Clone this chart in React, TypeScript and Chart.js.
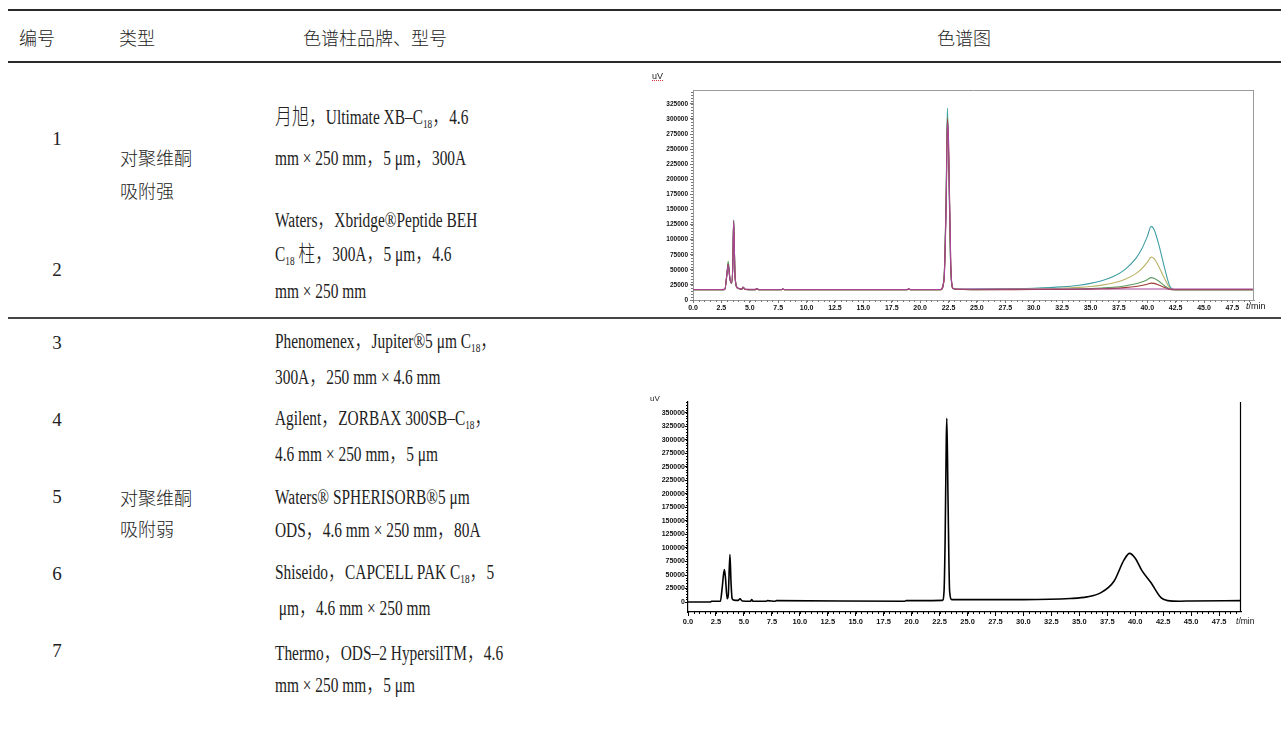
import React, { useEffect, useRef } from "react";
import { Chart, registerables } from "chart.js";

Chart.register(...registerables);

// ---------------- Top chromatogram (overlay of several runs) ----------------
const TOP_TIMES = [0, 2.5, 2.8, 3.0, 3.1, 3.25, 3.4, 3.5, 3.58, 3.7, 3.9, 4.3, 4.4, 4.6, 5.5, 5.6, 5.8, 7.8, 7.9, 8.1, 18.8, 19.0, 19.2, 21.8, 22.1, 22.3, 22.4, 22.5, 22.7, 22.9, 23.2, 25, 27.5, 30, 32.5, 34, 35, 36, 37, 38, 39, 39.5, 40, 40.35, 40.6, 41, 41.5, 42, 42.5, 45, 49.3];
const TOP_TEAL = [17000, 17000, 17500, 45000, 60000, 35000, 28000, 55000, 133000, 40000, 20000, 18000, 21000, 17500, 17200, 18500, 17000, 17000, 18000, 17000, 17000, 18000, 17000, 17000, 35000, 185000, 318000, 245000, 50000, 19000, 17800, 18000, 18700, 19500, 21700, 24500, 27500, 32000, 38800, 50000, 69000, 84000, 105000, 122000, 117000, 93000, 55000, 22500, 17000, 17000, 17000];
const TOP_OLIVE = [17000, 17000, 17500, 45000, 60000, 35000, 28000, 55000, 131000, 40000, 20000, 18000, 21000, 17500, 17200, 18500, 17000, 17000, 18000, 17000, 17000, 18000, 17000, 17000, 34000, 180000, 298000, 250000, 52000, 19000, 17800, 17500, 17900, 18300, 19500, 20900, 22400, 24700, 28200, 33900, 43700, 51400, 62200, 71000, 68400, 56000, 36500, 19800, 17000, 17000, 17000];
const TOP_GREEN = [17000, 17000, 17500, 47000, 64000, 36000, 28000, 55000, 132000, 40000, 20000, 18000, 21500, 17500, 17200, 18500, 17000, 17000, 18000, 17000, 17000, 18000, 17000, 17000, 34000, 180000, 304000, 248000, 52000, 19000, 17800, 17200, 17300, 17500, 17900, 18400, 19000, 19900, 21100, 23200, 26800, 29700, 33700, 37000, 36000, 31400, 24000, 18000, 17000, 17000, 17000];
const TOP_DARKRED = [17000, 17000, 17500, 45000, 59000, 35000, 28000, 55000, 130000, 40000, 20000, 18000, 21000, 17500, 17200, 18500, 17000, 17000, 18000, 17000, 17000, 18000, 17000, 17000, 33000, 170000, 300000, 262000, 55000, 19000, 17800, 17100, 17200, 17300, 17500, 17800, 18100, 18600, 19300, 20500, 22400, 24000, 26200, 28000, 27500, 25000, 21000, 17500, 17000, 17000, 17000];
const TOP_MAGENTA = [17500, 17500, 18000, 44000, 58000, 35000, 28500, 55000, 131000, 40000, 20500, 18500, 21000, 18000, 17700, 19000, 17500, 17500, 18500, 17500, 17500, 18500, 17500, 17500, 32000, 165000, 294000, 266000, 58000, 19500, 18300, 18300, 18300, 18300, 18300, 18300, 18300, 18300, 18300, 18300, 18300, 18300, 18300, 18300, 18300, 18300, 18300, 18300, 18300, 18300, 18300];
const TOP_Y_TICKS = [0, 25000, 50000, 75000, 100000, 125000, 150000, 175000, 200000, 225000, 250000, 275000, 300000, 325000];
const X_TICKS = [0, 2.5, 5, 7.5, 10, 12.5, 15, 17.5, 20, 22.5, 25, 27.5, 30, 32.5, 35, 37.5, 40, 42.5, 45, 47.5];

// ---------------- Bottom chromatogram (single run) ----------------
const BOTTOM_TIMES = [0, 2.0, 2.1, 2.9, 3.05, 3.25, 3.35, 3.5, 3.6, 3.75, 3.85, 3.95, 4.1, 4.5, 4.65, 4.85, 5.6, 5.7, 5.8, 7.0, 7.1, 7.8, 7.9, 19.4, 19.5, 21.0, 22.75, 22.9, 23.0, 23.1, 23.15, 23.25, 23.4, 23.6, 25, 30, 34.2, 35.7, 36.9, 38.1, 39.0, 39.5, 40.0, 40.6, 41.4, 42.3, 42.9, 44, 45, 49.5];
const BOTTOM_SIGNAL = [0, 0, 1500, 1500, 25000, 60000, 45000, 6000, 12000, 88000, 35000, 6000, 3500, 3000, 6000, 2000, 1500, 4500, 1500, 1500, 2500, 1500, 2500, 1500, 2500, 2500, 3000, 20000, 120000, 300000, 340000, 200000, 20000, 4500, 4500, 4500, 6500, 9500, 17000, 38500, 78000, 90000, 81000, 58000, 36000, 8000, 2500, 1500, 2000, 2500];
const BOTTOM_Y_TICKS = [0, 25000, 50000, 75000, 100000, 125000, 150000, 175000, 200000, 225000, 250000, 275000, 300000, 325000, 350000];

// ---------------- Table text ----------------
const HEADERS = ["编号", "类型", "色谱柱品牌、型号", "色谱图"];
const ROW_IDS = ["1", "2", "3", "4", "5", "6", "7"];
const TYPE_GROUPS = [["对聚维酮", "吸附强"], ["对聚维酮", "吸附弱"]];
const COLUMN_LINES = [
  "月旭，Ultimate XB–C{18}，4.6",
  "mm × 250 mm，5 μm，300A",
  "Waters，Xbridge®Peptide BEH",
  "C{18} 柱，300A，5 μm，4.6",
  "mm × 250 mm",
  "Phenomenex，Jupiter®5 μm C{18}，",
  "300A，250 mm × 4.6 mm",
  "Agilent，ZORBAX 300SB–C{18}，",
  "4.6 mm × 250 mm，5 μm",
  "Waters® SPHERISORB®5 μm",
  "ODS，4.6 mm × 250 mm，80A",
  "Shiseido，CAPCELL PAK C{18}，5",
  " μm，4.6 mm × 250 mm",
  "Thermo，ODS–2 HypersilTM，4.6",
  "mm × 250 mm，5 μm",
];

// layout (pixels)
const LINE_Y = [119, 156, 218, 256, 291, 343, 375, 420, 452, 497, 528, 574, 606, 651, 683];
const ROW_ID_Y = [139, 270, 343, 420, 497, 574, 651];
const TYPE_Y = [[157, 190], [497, 528]];
const HEADER_X = [37, 137, 375, 964];

const axisDecor = {
  id: "axisDecor",
  afterDraw(chart: any, _args: any, opts: any) {
    const { ctx, chartArea: a, scales } = chart;
    const x = scales.x;
    const y = scales.y;
    ctx.save();
    ctx.lineWidth = 1;
    ctx.strokeStyle = opts.tickColor;
    ctx.beginPath();
    for (let i = 0; i * opts.xMinor <= x.max + 1e-9; i++) {
      const px = Math.round(x.getPixelForValue(i * opts.xMinor)) + 0.5;
      ctx.moveTo(px, a.bottom);
      ctx.lineTo(px, a.bottom + opts.minorLen);
    }
    for (let i = 0; i * opts.yMinor <= y.max + 1e-9; i++) {
      const py = Math.round(y.getPixelForValue(i * opts.yMinor)) + 0.5;
      ctx.moveTo(a.left, py);
      ctx.lineTo(a.left - opts.minorLen, py);
    }
    ctx.stroke();
    ctx.strokeStyle = opts.frameColor;
    ctx.lineWidth = opts.frameWidth;
    ctx.beginPath();
    if (opts.frameTop) {
      ctx.moveTo(a.left, a.top + 0.5);
      ctx.lineTo(a.right, a.top + 0.5);
    }
    ctx.moveTo(a.right - 0.5, a.top);
    ctx.lineTo(a.right - 0.5, a.bottom);
    ctx.stroke();
    ctx.restore();
  },
};

function series(times: number[], vals: number[]) {
  return times.map((t, i) => ({ x: t, y: vals[i] }));
}

function TopChart() {
  const ref = useRef<HTMLCanvasElement>(null);
  useEffect(() => {
    const mk = (vals: number[], color: string) => ({
      data: series(TOP_TIMES, vals),
      borderColor: color,
      borderWidth: 1.1,
      pointRadius: 0,
      cubicInterpolationMode: "monotone" as const,
    });
    const chart = new Chart(ref.current!, {
      type: "line",
      data: {
        datasets: [
          mk(TOP_MAGENTA, "#a8479a"),
          mk(TOP_DARKRED, "#9c3b36"),
          mk(TOP_GREEN, "#5f9a62"),
          mk(TOP_OLIVE, "#b9b165"),
          mk(TOP_TEAL, "#3f9ea3"),
        ],
      },
      options: {
        responsive: false,
        animation: false,
        devicePixelRatio: 1,
        layout: { padding: { top: 20, right: 27, left: 0, bottom: 0 } },
        plugins: {
          legend: { display: false },
          tooltip: { enabled: false },
          axisDecor: { tickColor: "#777", frameColor: "#9a9a9a", frameWidth: 1, frameTop: true, xMinor: 0.5, yMinor: 5000, minorLen: 2 },
        } as any,
        scales: {
          x: {
            type: "linear",
            min: 0,
            max: 49.4,
            afterBuildTicks: (s: any) => { s.ticks = X_TICKS.map((v) => ({ value: v })); },
            afterFit: (s: any) => { s.height = 20; },
            ticks: { autoSkip: false, maxRotation: 0, padding: 1, color: "#111", font: { family: "Liberation Sans", size: 7, weight: "bold" }, callback: (v: any) => Number(v).toFixed(1) },
            grid: { drawOnChartArea: false, tickLength: 3, color: "#777" },
            border: { color: "#9a9a9a" },
          },
          y: {
            type: "linear",
            min: 0,
            max: 348000,
            afterBuildTicks: (s: any) => { s.ticks = TOP_Y_TICKS.map((v) => ({ value: v })); },
            afterFit: (s: any) => { s.width = 53; },
            ticks: { autoSkip: false, padding: 2, color: "#111", font: { family: "Liberation Sans", size: 6.5, weight: "bold" }, callback: (v: any) => String(v) },
            grid: { drawOnChartArea: false, tickLength: 3, color: "#777" },
            border: { color: "#9a9a9a" },
          },
        },
      },
      plugins: [axisDecor],
    });
    return () => chart.destroy();
  }, []);
  return <canvas ref={ref} width={641} height={250} style={{ position: "absolute", left: 640, top: 70, width: 641, height: 250 }} />;
}

function BottomChart() {
  const ref = useRef<HTMLCanvasElement>(null);
  useEffect(() => {
    const chart = new Chart(ref.current!, {
      type: "line",
      data: {
        datasets: [
          {
            data: series(BOTTOM_TIMES, BOTTOM_SIGNAL),
            borderColor: "#000",
            borderWidth: 1.6,
            pointRadius: 0,
            cubicInterpolationMode: "monotone",
          },
        ],
      },
      options: {
        responsive: false,
        animation: false,
        devicePixelRatio: 1,
        layout: { padding: { top: 7, right: 40, left: 0, bottom: 0 } },
        plugins: {
          legend: { display: false },
          tooltip: { enabled: false },
          axisDecor: { tickColor: "#000", frameColor: "#000", frameWidth: 1.2, frameTop: false, xMinor: 0.5, yMinor: 5000, minorLen: 2 },
        } as any,
        scales: {
          x: {
            type: "linear",
            min: 0,
            max: 49.46,
            afterBuildTicks: (s: any) => { s.ticks = X_TICKS.map((v) => ({ value: v })); },
            afterFit: (s: any) => { s.height = 23; },
            ticks: { autoSkip: false, maxRotation: 0, padding: 1, color: "#111", font: { family: "Liberation Sans", size: 7.5, weight: "bold" }, callback: (v: any) => Number(v).toFixed(1) },
            grid: { drawOnChartArea: false, tickLength: 4, color: "#000", lineWidth: 1 },
            border: { color: "#000", width: 1.2 },
          },
          y: {
            type: "linear",
            min: -18500,
            max: 370300,
            afterBuildTicks: (s: any) => { s.ticks = BOTTOM_Y_TICKS.map((v) => ({ value: v })); },
            afterFit: (s: any) => { s.width = 58; },
            ticks: { autoSkip: false, padding: 0, color: "#111", font: { family: "Liberation Sans", size: 7, weight: "bold" }, callback: (v: any) => String(v) },
            grid: { drawOnChartArea: false, tickLength: 3, color: "#000" },
            border: { color: "#000", width: 1.2 },
          },
        },
      },
      plugins: [axisDecor],
    });
    return () => chart.destroy();
  }, []);
  return <canvas ref={ref} width={651} height={240} style={{ position: "absolute", left: 630, top: 395, width: 651, height: 240 }} />;
}

const CJK_CHARS = /[\u3000-\u303f\u4e00-\u9fff\uff00-\uffef]/;
const SPLIT_RE = /(\{[^}]*\}|[\u3000-\u303f\u4e00-\u9fff\uff00-\uffef]+)/;

function Rich({ text }: { text: string }) {
  const parts = text.split(SPLIT_RE).filter((p) => p !== "");
  return (
    <>
      {parts.map((p, i) => {
        if (p.startsWith("{")) {
          return (
            <span key={i} style={{ fontSize: "0.6em", verticalAlign: "-0.28em" }}>
              {p.slice(1, -1)}
            </span>
          );
        }
        if (CJK_CHARS.test(p)) {
          return (
            <span key={i} style={{ fontFamily: '"Noto Sans CJK SC"', fontWeight: 300, fontSize: "1.1em" }}>
              {p}
            </span>
          );
        }
        return <span key={i}>{p}</span>;
      })}
    </>
  );
}

const textBase: React.CSSProperties = {
  position: "absolute",
  whiteSpace: "pre",
  fontFamily: '"Liberation Serif", "Noto Sans CJK SC", serif',
  fontSize: 18,
  lineHeight: "24px",
  color: "#222",
};

function Txt({ x, y, center, scaleX, children, style }: { x: number; y: number; center?: boolean; scaleX?: number; children: React.ReactNode; style?: React.CSSProperties }) {
  const sx = scaleX ? ` scaleX(${scaleX})` : "";
  return (
    <div style={{ ...textBase, left: x, top: y, transformOrigin: "0 50%", transform: `translate(${center ? "-50%" : "0"}, -50%)${sx}`, ...style }}>
      {children}
    </div>
  );
}

const cjkStyle: React.CSSProperties = { fontFamily: '"Noto Sans CJK SC"', fontWeight: 300, fontSize: 18 };

export default function App() {
  return (
    <div style={{ position: "absolute", left: 0, top: 0, width: 1281, height: 751, overflow: "hidden", background: "#fff" }}>
      {/* rules */}
      <div style={{ position: "absolute", left: 8, right: 0, top: 9, height: 2, background: "#2a2a2a" }} />
      <div style={{ position: "absolute", left: 8, right: 0, top: 61, height: 2, background: "#2a2a2a" }} />
      <div style={{ position: "absolute", left: 8, right: 0, top: 317, height: 1.5, background: "#444" }} />

      {/* header */}
      {HEADERS.map((h, i) => (
        <Txt key={h} x={HEADER_X[i]} y={37} center style={cjkStyle}>
          {h}
        </Txt>
      ))}

      {/* row ids */}
      {ROW_IDS.map((id, i) => (
        <Txt key={id} x={57} y={ROW_ID_Y[i]} center style={{ fontSize: 19 }}>
          {id}
        </Txt>
      ))}

      {/* type groups */}
      {TYPE_GROUPS.map((g, gi) =>
        g.map((t, ti) => (
          <Txt key={gi + "-" + ti} x={120} y={TYPE_Y[gi][ti]} style={cjkStyle}>
            {t}
          </Txt>
        ))
      )}

      {/* column description lines */}
      {COLUMN_LINES.map((l, i) => (
        <Txt key={i} x={275} y={LINE_Y[i]} scaleX={0.77} style={{ fontSize: 20 }}>
          <Rich text={l} />
        </Txt>
      ))}

      {/* charts */}
      <TopChart />
      <BottomChart />

      {/* axis titles */}
      <div style={{ position: "absolute", left: 652, top: 71, fontFamily: "Liberation Sans", fontSize: 9, color: "#222", textDecoration: "underline dotted #d33" }}>uV</div>
      <div style={{ position: "absolute", left: 1246, top: 301, fontFamily: "Liberation Sans", fontSize: 9, color: "#111" }}>
        <i>t</i>/min
      </div>
      <div style={{ position: "absolute", left: 650, top: 394, fontFamily: "Liberation Sans", fontSize: 8, color: "#222" }}>uV</div>
      <div style={{ position: "absolute", left: 1236, top: 616, fontFamily: "Liberation Sans", fontSize: 8.5, color: "#111" }}>
        <i>t</i>/min
      </div>
    </div>
  );
}
